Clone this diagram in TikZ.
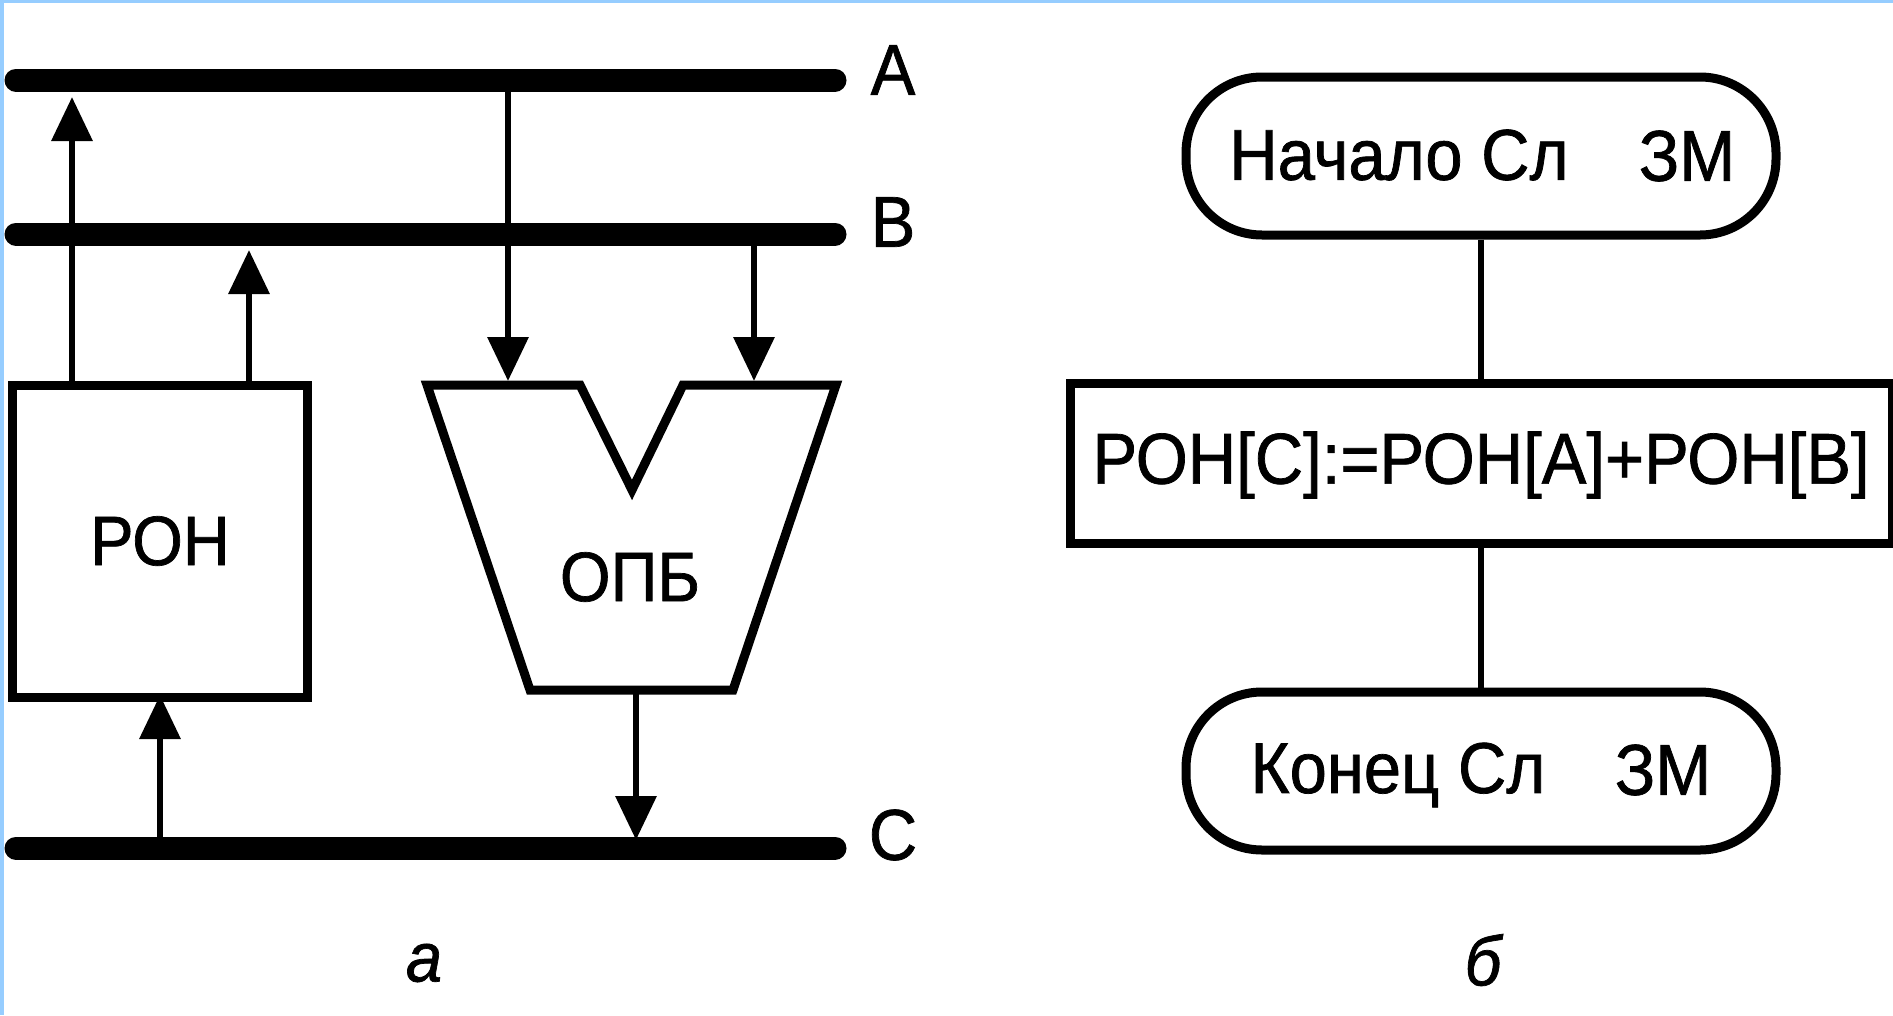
\documentclass[tikz,border=0pt]{standalone}
\usepackage{fontspec}
\setmainfont{Liberation Sans}[FakeStretch=0.93,FakeBold=1]
\usetikzlibrary{arrows.meta}
\definecolor{edgeblue}{RGB}{150,205,255}
\tikzset{
	bus/.style = {line width=23pt, line cap=round},
	wire/.style = {line width=6.5pt, -{Triangle[length=44pt,width=40pt]}},
	link/.style = {line width=6pt},
	box/.style = {draw, line width=9pt, inner sep=0pt},
	term/.style = {box, rounded corners=76pt},
	lbl/.style = {font=\fontsize{70}{70}\selectfont, inner sep=0pt},
	txt/.style = {font=\fontsize{72}{72}\selectfont, inner sep=0pt}
}
\begin{document}
\begin{tikzpicture}[x=1pt, y=-1pt]
	\useasboundingbox (0,0) rectangle (1893,1015);
	\fill[white] (0,0) rectangle (1893,1015);
	\fill[edgeblue] (0,0) rectangle (1893,3);
	\fill[edgeblue] (0,0) rectangle (4,1015);
	% buses
	\coordinate (a1) at (16,80);
	\coordinate (a2) at (835,80);
	\coordinate (b1) at (16,234);
	\coordinate (b2) at (835,234);
	\coordinate (c1) at (16,848);
	\coordinate (c2) at (835,848);
	\draw[bus] (a1) -- (a2);
	\draw[bus] (b1) -- (b2);
	\draw[bus] (c1) -- (c2);
	\node[txt] (la) at (893,70) {A};
	\node[txt] (lb) at (893,222) {B};
	\node[txt] (lc) at (893,835) {C};
	% registers
	\node[box, minimum width=295pt, minimum height=312pt, lbl] (ron) at (160,541) {РОН};
	% adder
	\node[lbl] (opb) at (630,577) {ОПБ};
	\draw[line width=9pt, line join=miter] (427,385) -- (580,385) -- (632,490) -- (683,385) -- (836,385) -- (733,690) -- (530,690) -- cycle;
	\coordinate (in1) at (508,381);
	\coordinate (in2) at (754,381);
	\coordinate (out) at (636,690);
	\coordinate (ra) at (72,381);
	\coordinate (rb) at (249,381);
	\coordinate (rc) at (160,695);
	% wires
	\draw[wire] (ra) -- (72,97);
	\draw[wire] (rb) -- (249,250);
	\draw[wire] (508,80) -- (in1);
	\draw[wire] (754,245) -- (in2);
	\draw[wire] (out) -- (636,840);
	\draw[wire] (160,848) -- (rc);
	% flow chart
	\node[term, minimum width=590pt, minimum height=158pt] (start) at (1481,156) {};
	\node[txt] at (1399,155) {Начало Сл};
	\node[txt] at (1687,156) {ЗМ};
	\node[box, minimum width=822pt, minimum height=160pt] (sum) at (1481,463) {};
	\node[txt] at (1481,465) {РОН[C]:=РОН[A]+РОН[B]};
	\node[term, minimum width=590pt, minimum height=158pt] (stop) at (1481,771) {};
	\node[txt] at (1398,775) {Конец Сл};
	\node[txt] at (1663,770) {ЗМ};
	\draw[link] (start) -- (sum);
	\draw[link] (sum) -- (stop);
	% captions
	\node[lbl, font=\itshape\fontsize{70}{70}\selectfont] (capa) at (424,963) {а};
	\node[lbl, font=\itshape\fontsize{70}{70}\selectfont] (capb) at (1483,960) {б};
\end{tikzpicture}
\end{document}
